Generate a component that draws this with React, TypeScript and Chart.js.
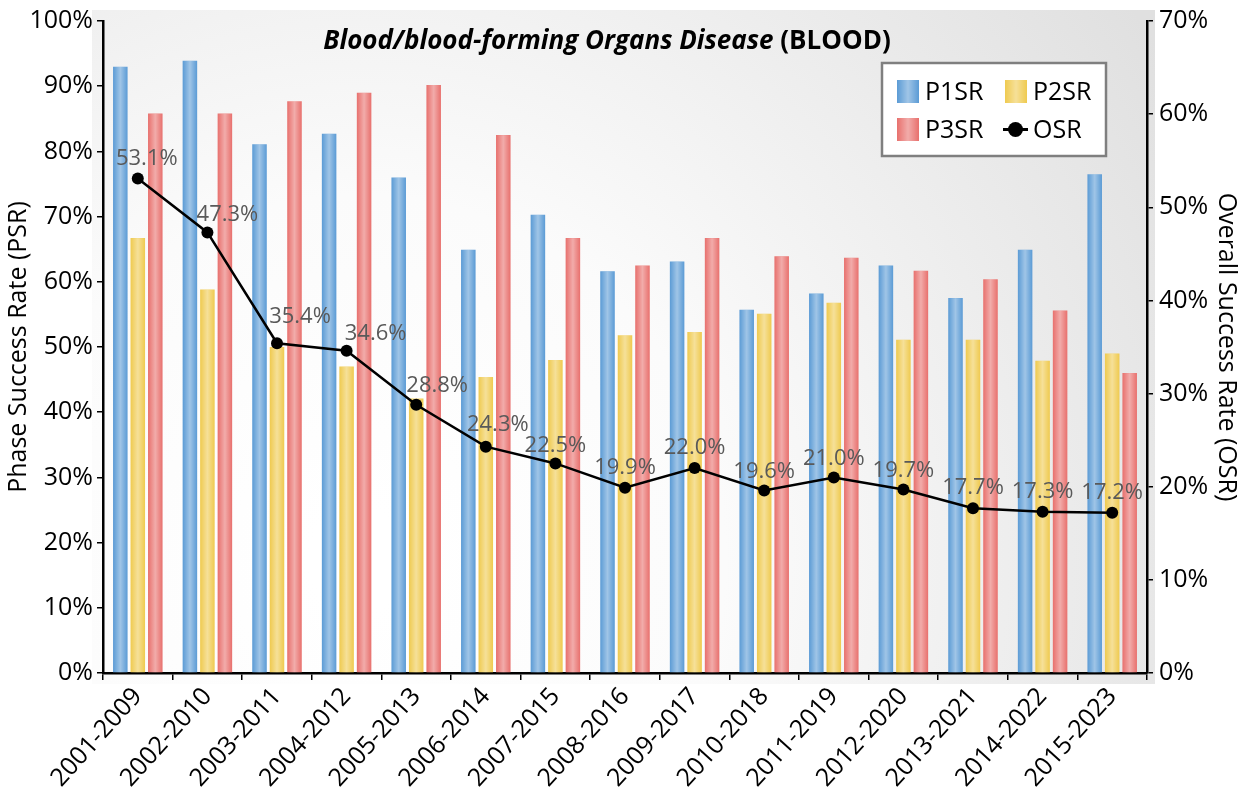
import React, { useEffect, useRef } from 'react';
import { Chart, registerables } from 'chart.js';

Chart.register(...registerables);

const categories = [
  '2001-2009', '2002-2010', '2003-2011', '2004-2012', '2005-2013',
  '2006-2014', '2007-2015', '2008-2016', '2009-2017', '2010-2018',
  '2011-2019', '2012-2020', '2013-2021', '2014-2022', '2015-2023',
];
const p1sr = [93.0, 93.9, 81.1, 82.7, 76.0, 64.9, 70.3, 61.6, 63.1, 55.7, 58.2, 62.5, 57.5, 64.9, 76.5];
const p2sr = [66.7, 58.8, 50.0, 47.0, 42.1, 45.4, 48.0, 51.8, 52.3, 55.1, 56.8, 51.1, 51.1, 47.9, 49.0];
const p3sr = [85.8, 85.8, 87.7, 89.0, 90.2, 82.5, 66.7, 62.5, 66.7, 63.9, 63.7, 61.7, 60.4, 55.6, 46.0];
const osr = [53.1, 47.3, 35.4, 34.6, 28.8, 24.3, 22.5, 19.9, 22.0, 19.6, 21.0, 19.7, 17.7, 17.3, 17.2];

const leftAxisMax = 100;
const rightAxisMax = 70;
const tickStep = 10;

const titleItalic = 'Blood/blood-forming Organs Disease';
const titleRest = ' (BLOOD)';
const leftTitle = 'Phase Success Rate (PSR)';
const rightTitle = 'Overall Success Rate (OSR)';

const FONT = "'Open Sans', 'DejaVu Sans', sans-serif";

const COLORS = {
  p1: '#5b9bd5',
  p2: '#efca4f',
  p3: '#e8706d',
};

function shine(ctx: CanvasRenderingContext2D, x0: number, x1: number) {
  const g = ctx.createLinearGradient(x0, 0, x1, 0);
  g.addColorStop(0, 'rgba(255,255,255,0)');
  g.addColorStop(0.5, 'rgba(255,255,255,0.42)');
  g.addColorStop(1, 'rgba(255,255,255,0)');
  return g;
}

const backgroundPlugin = {
  id: 'panelBg',
  beforeDraw(chart: any) {
    const ctx = chart.ctx as CanvasRenderingContext2D;
    ctx.save();
    ctx.fillStyle = '#ffffff';
    ctx.fillRect(0, 0, chart.width, chart.height);
    const x0 = 92, y0 = 10, x1 = 1155, y1 = 684;
    const g = ctx.createRadialGradient(360, 560, 50, 360, 560, 950);
    g.addColorStop(0, '#ffffff');
    g.addColorStop(0.35, '#fbfbfb');
    g.addColorStop(1, '#e0e0e0');
    ctx.fillStyle = g;
    ctx.fillRect(x0, y0, x1 - x0, y1 - y0);
    ctx.restore();
  },
};

const barShinePlugin = {
  id: 'barShine',
  afterDatasetDraw(chart: any, args: any) {
    const meta = args.meta;
    if (meta.type !== 'bar') return;
    const ctx = chart.ctx as CanvasRenderingContext2D;
    ctx.save();
    meta.data.forEach((el: any) => {
      const { x, y, base, width } = el.getProps(['x', 'y', 'base', 'width'], true);
      const l = x - width / 2;
      ctx.fillStyle = shine(ctx, l, l + width);
      ctx.fillRect(l, y, width, base - y);
    });
    ctx.restore();
  },
};

const labelPlugin = {
  id: 'osrLabels',
  afterDatasetsDraw(chart: any, _args: any, opts: any) {
    const idx = chart.data.datasets.findIndex((d: any) => d.type === 'line');
    if (idx < 0) return;
    const meta = chart.getDatasetMeta(idx);
    const ds = chart.data.datasets[idx];
    const ctx = chart.ctx as CanvasRenderingContext2D;
    ctx.save();
    ctx.font = `22px ${FONT}`;
    ctx.fillStyle = '#595959';
    ctx.textAlign = 'center';
    ctx.textBaseline = 'middle';
    meta.data.forEach((pt: any, i: number) => {
      const dx = (opts.dx && opts.dx[i]) || 0;
      const dy = (opts.dy && opts.dy[i]) ?? -20;
      ctx.fillText(`${ds.data[i].toFixed(1)}%`, pt.x + dx, pt.y + dy);
    });
    ctx.restore();
  },
};

const titlePlugin = {
  id: 'mixedTitle',
  afterDraw(chart: any) {
    const ctx = chart.ctx as CanvasRenderingContext2D;
    ctx.save();
    const fi = `italic bold 26px ${FONT}`;
    const fb = `bold 26px ${FONT}`;
    ctx.font = fi;
    const w1 = ctx.measureText(titleItalic).width;
    ctx.font = fb;
    const w2 = ctx.measureText(titleRest).width;
    const cx = 607;
    const y = 42;
    let x = cx - (w1 + w2) / 2;
    ctx.fillStyle = '#000';
    ctx.textBaseline = 'middle';
    ctx.textAlign = 'left';
    ctx.font = fi;
    ctx.fillText(titleItalic, x, y);
    x += w1;
    ctx.font = fb;
    ctx.fillText(titleRest, x, y);
    ctx.restore();
  },
};

const legendPlugin = {
  id: 'boxLegend',
  afterDraw(chart: any) {
    const ctx = chart.ctx as CanvasRenderingContext2D;
    const ds = chart.data.datasets;
    ctx.save();
    ctx.fillStyle = '#ffffff';
    ctx.fillRect(882, 63, 224, 93);
    ctx.strokeStyle = '#7f7f7f';
    ctx.lineWidth = 2.5;
    ctx.strokeRect(882, 63, 224, 93);
    const cells = [
      { d: ds[0], x: 897, y: 91.5 },
      { d: ds[1], x: 1005, y: 91.5 },
      { d: ds[2], x: 897, y: 129.5 },
      { d: ds[3], x: 1005, y: 129.5 },
    ];
    ctx.font = `25px ${FONT}`;
    ctx.textBaseline = 'middle';
    ctx.textAlign = 'left';
    cells.forEach((c) => {
      if (c.d.type === 'line') {
        ctx.strokeStyle = '#000';
        ctx.lineWidth = 3;
        ctx.beginPath();
        ctx.moveTo(c.x - 2, c.y);
        ctx.lineTo(c.x + 23, c.y);
        ctx.stroke();
        ctx.fillStyle = '#000';
        ctx.beginPath();
        ctx.arc(c.x + 10.5, c.y, 7.5, 0, Math.PI * 2);
        ctx.fill();
      } else {
        ctx.fillStyle = c.d.backgroundColor;
        ctx.fillRect(c.x, c.y - 11.5, 22, 23);
        ctx.fillStyle = shine(ctx, c.x, c.x + 22);
        ctx.fillRect(c.x, c.y - 11.5, 22, 23);
      }
      ctx.fillStyle = '#000';
      ctx.fillText(c.d.label, c.x + 28, c.y + 1);
    });
    ctx.restore();
  },
};

export default function App() {
  const ref = useRef<HTMLCanvasElement | null>(null);

  useEffect(() => {
    if (!ref.current) return;
    Chart.defaults.font.family = FONT;
    const tickFont = { size: 25, family: FONT };
    const xFont = { size: 25, family: FONT };
    const chart = new Chart(ref.current, {
      type: 'bar',
      data: {
        labels: categories,
        datasets: [
          {
            type: 'bar', label: 'P1SR', data: p1sr, backgroundColor: COLORS.p1,
            yAxisID: 'y', order: 2, categoryPercentage: 0.754, barPercentage: 0.83,
          },
          {
            type: 'bar', label: 'P2SR', data: p2sr, backgroundColor: COLORS.p2,
            yAxisID: 'y', order: 2, categoryPercentage: 0.754, barPercentage: 0.83,
          },
          {
            type: 'bar', label: 'P3SR', data: p3sr, backgroundColor: COLORS.p3,
            yAxisID: 'y', order: 2, categoryPercentage: 0.754, barPercentage: 0.83,
          },
          {
            type: 'line', label: 'OSR', data: osr, yAxisID: 'y1', order: 0,
            borderColor: '#000', borderWidth: 2.5, backgroundColor: '#000',
            pointRadius: 6, pointBackgroundColor: '#000', pointBorderWidth: 0, tension: 0,
          } as any,
        ],
      },
      options: {
        responsive: false,
        animation: false,
        layout: { padding: { top: 20, right: 0, left: 0, bottom: 0 } },
        plugins: {
          legend: { display: false },
          tooltip: { enabled: false },
          title: { display: false },
          osrLabels: {
            dx: [9, 20, 23, 29, 21, 12, 0, 0, 0, 0, 0, 0, 0, 0, 0],
            dy: [-20, -18, -27, -17, -19, -22, -18, -20, -20, -19, -19, -19, -20, -20, -20],
          },
        } as any,
        scales: {
          x: {
            grid: { display: true, drawOnChartArea: false, drawTicks: true, tickLength: 7, color: '#000', lineWidth: 1.5 },
            border: { display: true, color: '#000', width: 2.5 },
            ticks: { font: xFont, color: '#000', minRotation: 48, maxRotation: 48, autoSkip: false, padding: 2 },
            afterFit: (s: any) => { s.height = 120; },
          },
          y: {
            position: 'left', min: 0, max: leftAxisMax,
            ticks: { stepSize: tickStep, font: tickFont, color: '#000', padding: 4, callback: (v: any) => `${v}%` },
            grid: { display: true, drawOnChartArea: false, drawTicks: true, tickLength: 6, color: '#000', lineWidth: 1.5 },
            border: { display: true, color: '#000', width: 2.5 },
            title: { display: true, text: leftTitle, font: tickFont, color: '#000', padding: { top: 4, bottom: 0 } },
            afterFit: (s: any) => { s.width = 103; },
          },
          y1: {
            position: 'right', min: 0, max: rightAxisMax,
            ticks: { stepSize: tickStep, font: tickFont, color: '#000', padding: 6, callback: (v: any) => `${v}%` },
            grid: { display: true, drawOnChartArea: false, drawTicks: true, tickLength: 6, color: '#000', lineWidth: 1.5 },
            border: { display: true, color: '#000', width: 2.5 },
            title: { display: true, text: rightTitle, font: tickFont, color: '#000', padding: { top: 4, bottom: 0 } },
            afterFit: (s: any) => { s.width = 98; },
          },
        },
      } as any,
      plugins: [backgroundPlugin, barShinePlugin, labelPlugin, titlePlugin, legendPlugin],
    });
    return () => chart.destroy();
  }, []);

  return (
    <div style={{ position: 'absolute', left: 0, top: 0, width: 1245, height: 793 }}>
      <canvas ref={ref} width={1245} height={793} />
    </div>
  );
}
